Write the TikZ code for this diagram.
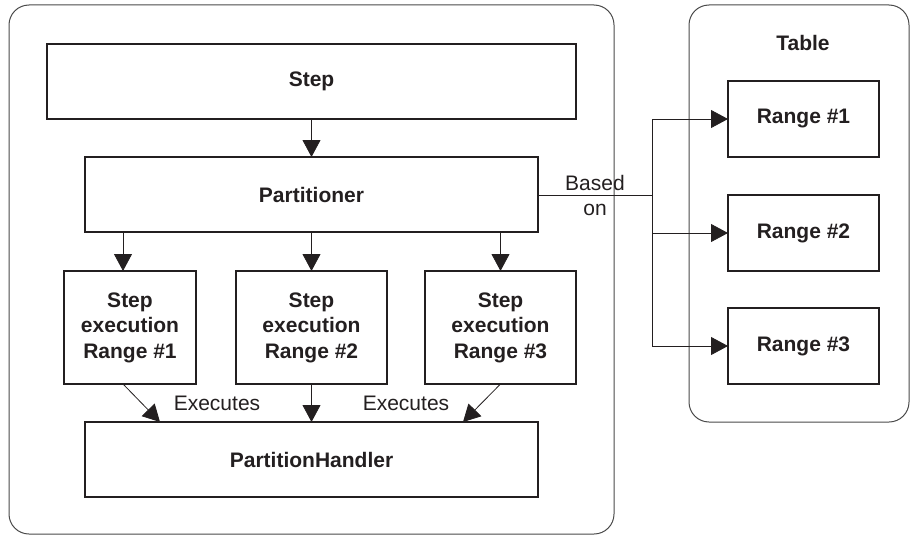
\documentclass[tikz,border=0pt]{standalone}
\usepackage{fontspec}
\setmainfont{Liberation Sans}
\usetikzlibrary{arrows.meta}
\definecolor{ink}{HTML}{231F20}
\definecolor{frame}{HTML}{4A4A4A}
\begin{document}
\begin{tikzpicture}[x=1pt,y=-1pt,
  box/.style={draw=ink,line width=1.1pt,rectangle,inner sep=0pt,outer sep=0pt,
    font=\fontsize{21}{25.5}\selectfont\bfseries,text=ink,align=center},
  panel/.style={draw=frame,line width=1pt,rounded corners=20pt},
  conn/.style={draw=ink,line width=0.8pt},
  arr/.style={conn,-{Triangle[length=17pt,width=18pt]}},
  lbl/.style={font=\fontsize{21}{25}\selectfont,text=ink,align=center,inner sep=0pt}]
\useasboundingbox (0,0) rectangle (910,535);
% panels
\draw[panel] (9,5) rectangle (614,534);
\draw[panel] (689,5) rectangle (909,422);
% nodes
\node[box,minimum width=529pt,minimum height=75pt] (step) at (311.5,81.5) {Step};
\node[box,minimum width=453pt,minimum height=75pt] (part) at (311.5,194.5) {Partitioner};
\node[box,minimum width=132pt,minimum height=113pt] (ex1) at (130,327.5) {Step\\execution\\Range \#1};
\node[box,minimum width=151pt,minimum height=113pt] (ex2) at (311.5,327.5) {Step\\execution\\Range \#2};
\node[box,minimum width=151pt,minimum height=113pt] (ex3) at (500.5,327.5) {Step\\execution\\Range \#3};
\node[box,minimum width=453pt,minimum height=75pt] (ph) at (311.5,459.5) {PartitionHandler};
\node[box,minimum width=151pt,minimum height=76pt] (r1) at (803.5,119) {Range \#1};
\node[box,minimum width=151pt,minimum height=76pt] (r2) at (803.5,233) {Range \#2};
\node[box,minimum width=151pt,minimum height=76pt] (r3) at (803.5,346) {Range \#3};
\node[lbl,font=\fontsize{21}{25}\selectfont\bfseries] (table) at (803,43) {Table};
% connectors
\draw[arr] (step.south) -- (part.north);
\draw[arr] (part.south -| 123,0) -- (ex1.north -| 123,0);
\draw[arr] (part.south -| ex2.north) -- (ex2.north);
\draw[arr] (part.south -| ex3.north) -- (ex3.north);
\coordinate (a1) at (160,422);
\coordinate (a3) at (463,422);
\draw[arr] (ex1.south -| 123,0) -- (a1);
\draw[arr] (ex2.south) -- (ph.north -| ex2.south);
\draw[arr] (ex3.south) -- (a3);
\node[lbl] (exl1) at (217,403) {Executes};
\node[lbl] (exl2) at (406,403) {Executes};
% based on
\coordinate (br) at (652,195);
\draw[conn] (part.east |- br) -- (br);
\draw[conn] (br |- r1.west) -- (br |- r3.west);
\draw[arr] (br |- r1.west) -- (r1.west);
\draw[arr] (br |- r2.west) -- (r2.west);
\draw[arr] (br |- r3.west) -- (r3.west);
\node[lbl] (based) at (595,195) {Based\\on};
\end{tikzpicture}
\end{document}
